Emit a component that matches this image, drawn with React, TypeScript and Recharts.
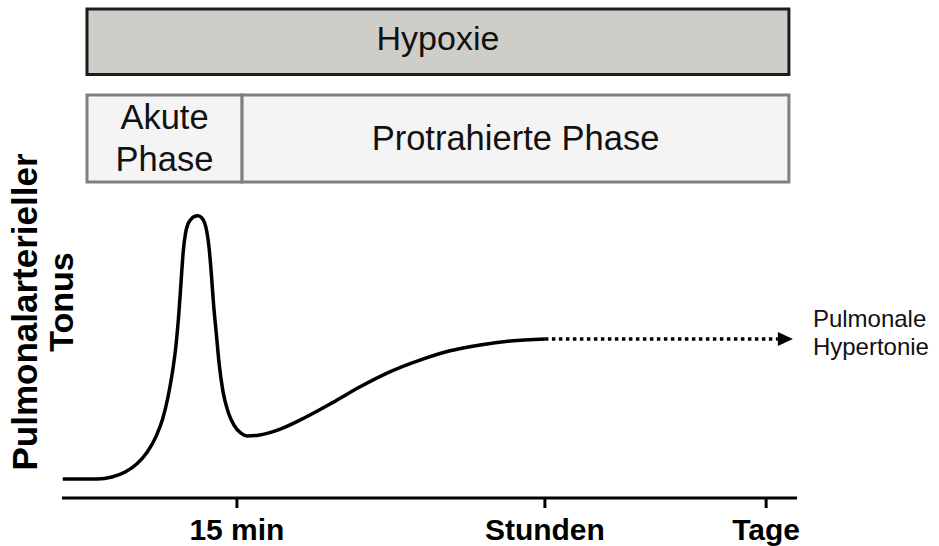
import React from 'react';
import { ComposedChart, Line, XAxis, YAxis, ReferenceArea } from 'recharts';

// Time axis (arbitrary units, 0..100) and pulmonary arterial tone (0..100)
const timeValues = [0.1, 4.8, 6.8, 8.6, 10.2, 11.6, 12.8, 13.7, 14.4, 15.0, 15.5, 15.9, 16.2, 16.5, 16.8, 17.1, 17.5, 17.9, 18.5, 19.0, 19.4, 19.7, 20.0, 20.3, 20.6, 21.0, 21.4, 21.9, 22.6, 23.4, 24.3, 25.2, 26.9, 29.7, 33.0, 36.8, 40.5, 44.6, 48.7, 52.8, 56.9, 61.0, 65.7];
const tonusValues = [3.9, 3.9, 4.3, 5.3, 7.0, 9.4, 12.6, 16.2, 20.5, 25.5, 31.1, 37.8, 44.2, 50.5, 54.1, 55.9, 56.9, 57.5, 57.7, 57.3, 56.3, 54.5, 51.3, 46.2, 40.0, 33.5, 27.2, 21.8, 17.6, 14.9, 13.3, 12.7, 12.9, 14.1, 16.4, 19.5, 22.7, 25.8, 28.2, 30.1, 31.3, 32.1, 32.5];

const trendTime = [65.7, 97.4];
const trendValues = [32.5, 32.5];
const trendLabel = ['Pulmonale', 'Hypertonie'];

const xTicks = [23.8, 65.7, 95.8];
const xTickLabels = ['15 min', 'Stunden', 'Tage'];

const yLabelLines = ['Pulmonalarterieller', 'Tonus'];

const hypoxiaLabel = ['Hypoxie'];
const hypoxiaRange = [3.4, 98.9];
const hypoxiaBand = [86.6, 100];

const phaseLabels = [['Akute', 'Phase'], ['Protrahierte Phase']];
const phaseStarts = [3.4, 24.5];
const phaseEnds = [24.5, 98.9];
const phaseBand = [64.6, 82.4];

const FONT = '"Liberation Sans", Arial, Helvetica, sans-serif';

const mainData = timeValues.map((t, i) => ({ t, tonus: tonusValues[i] }));
const trendData = trendTime.map((t, i) => ({ t, tonus: trendValues[i] }));

const boxLabel = (lines: string[], fontSize: number, lineHeight: number, dy: number) => (props: any) => {
  const vb = props.viewBox || {};
  const cx = vb.x + vb.width / 2;
  const cy = vb.y + vb.height / 2 + dy;
  const first = cy - ((lines.length - 1) * lineHeight) / 2 + fontSize * 0.358;
  return (
    <text textAnchor="middle" fontFamily={FONT} fontSize={fontSize} fill="#111">
      {lines.map((l, i) => (
        <tspan key={i} x={cx} y={first + i * lineHeight}>{l}</tspan>
      ))}
    </text>
  );
};

const renderTick = (props: any) => {
  const { x, y, payload } = props;
  const idx = xTicks.indexOf(payload.value);
  return (
    <text x={x} y={y + 32} textAnchor="middle" fontFamily={FONT} fontWeight="bold" fontSize={30} fill="#000">
      {xTickLabels[idx]}
    </text>
  );
};

const renderYLabel = (props: any) => {
  const vb = props.viewBox || {};
  const right = (vb.x || 0) + (vb.width || 62);
  const l1x = right - 25;
  const l1y = 312;
  const l2x = right + 11;
  const l2y = 302;
  return (
    <g>
      <text x={l1x} y={l1y} transform={`rotate(-90 ${l1x} ${l1y})`} textAnchor="middle" fontFamily={FONT} fontWeight="bold" fontSize={35} fill="#000">
        {yLabelLines[0]}
      </text>
      <text x={l2x} y={l2y} transform={`rotate(-90 ${l2x} ${l2y})`} textAnchor="middle" fontFamily={FONT} fontWeight="bold" fontSize={34} fill="#000">
        {yLabelLines[1]}
      </text>
    </g>
  );
};

const renderArrowDot = (props: any) => {
  const { cx, cy, index } = props;
  if (index !== trendData.length - 1) return <g key={`d${index}`} />;
  return (
    <g key={`d${index}`}>
      <polygon points={`${cx},${cy - 7} ${cx + 15},${cy} ${cx},${cy + 7}`} fill="#000" />
      <text x={cx + 35} y={cy - 12} fontFamily={FONT} fontSize={24} fill="#111">{trendLabel[0]}</text>
      <text x={cx + 35} y={cy + 16} fontFamily={FONT} fontSize={24} fill="#111">{trendLabel[1]}</text>
    </g>
  );
};

export default function App() {
  return (
    <div style={{ position: 'absolute', left: 0, top: 0, width: 939, height: 546, background: '#fff' }}>
      <ComposedChart width={939} height={546} margin={{ top: 9, right: 142, bottom: 4, left: 0 }}>
        <XAxis
          type="number"
          dataKey="t"
          domain={[0, 100]}
          ticks={xTicks}
          height={44}
          axisLine={{ stroke: '#000', strokeWidth: 3 }}
          tickLine={{ stroke: '#000', strokeWidth: 3 }}
          tickSize={10}
          tickMargin={0}
          tick={renderTick}
        />
        <YAxis
          type="number"
          domain={[0, 100]}
          width={62}
          axisLine={false}
          tickLine={false}
          tick={false}
          label={{ content: renderYLabel }}
        />
        <ReferenceArea
          x1={hypoxiaRange[0]}
          x2={hypoxiaRange[1]}
          y1={hypoxiaBand[0]}
          y2={hypoxiaBand[1]}
          fill="#cfcdc8"
          fillOpacity={1}
          stroke="#1c1c1c"
          strokeWidth={3}
          ifOverflow="visible"
          label={{ content: boxLabel(hypoxiaLabel, 34, 42, -4) }}
        />
        {phaseLabels.map((lines, i) => (
          <ReferenceArea
            key={i}
            x1={phaseStarts[i]}
            x2={phaseEnds[i]}
            y1={phaseBand[0]}
            y2={phaseBand[1]}
            fill="#f4f4f4"
            fillOpacity={1}
            stroke="#808080"
            strokeWidth={3}
            ifOverflow="visible"
            label={{ content: boxLabel(lines, 34.5, 42, -1) }}
          />
        ))}
        <Line
          data={mainData}
          dataKey="tonus"
          type="monotone"
          stroke="#000"
          strokeWidth={3.5}
          dot={false}
          isAnimationActive={false}
        />
        <Line
          data={trendData}
          dataKey="tonus"
          type="linear"
          stroke="#000"
          strokeWidth={3.5}
          strokeDasharray="3.5 3.5"
          dot={renderArrowDot}
          isAnimationActive={false}
        />
      </ComposedChart>
    </div>
  );
}
